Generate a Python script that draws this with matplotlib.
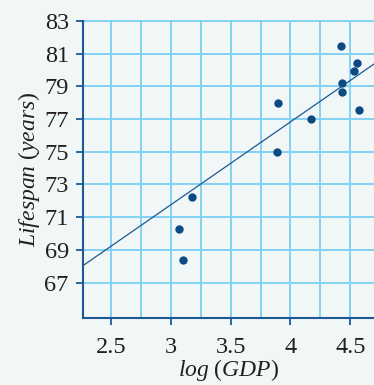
import numpy as np
import matplotlib
matplotlib.use("Agg")
from matplotlib import pyplot as plt

# log10 of GDP per capita vs. life expectancy
log_gdp = [4.42, 4.556, 4.533, 4.432, 4.43, 4.57, 3.892, 4.168, 3.89, 3.177, 3.067, 3.098]
lifespan = [81.5, 80.45, 79.92, 79.21, 78.68, 77.56, 78.0, 77.0, 75.0, 72.22, 70.28, 68.4]

# line of best fit
fit_slope = 5.07
fit_intercept = 56.55

x_ticks = [2.5, 3, 3.5, 4, 4.5]
x_tick_labels = ["2.5", "3", "3.5", "4", "4.5"]
y_ticks = [67, 69, 71, 73, 75, 77, 79, 81, 83]

bg = "#f1f6f7"
grid_col = "#84d2f3"
axis_col = "#1b5a94"
dot_col = "#0b4a82"

plt.rcParams["font.family"] = ["Liberation Serif", "DejaVu Serif"]
plt.rcParams["mathtext.fontset"] = "custom"
plt.rcParams["mathtext.rm"] = "Liberation Serif"
plt.rcParams["mathtext.it"] = "Liberation Serif:italic"

fig = plt.figure(figsize=(3.74, 3.85), dpi=100, facecolor=bg)
ax = fig.add_axes([0.2211, 0.1748, 0.7789, 0.7706], facecolor=bg)

xmin, xmax = 2.263, 4.698
ax.set_xlim(xmin, xmax)
ax.set_ylim(64.85, 83)

# grid every quarter unit across, every 2 years up
for gx in np.arange(2.5, 4.75, 0.25):
    ax.axvline(gx, color=grid_col, lw=1.4, zorder=1)
for gy in y_ticks:
    ax.axhline(gy, color=grid_col, lw=1.4, zorder=1, clip_on=False)

xs = np.array([xmin, xmax])
ax.plot(xs, fit_intercept + fit_slope * xs, color=axis_col, lw=0.9, zorder=2)
ax.scatter(log_gdp, lifespan, s=36, color=dot_col, zorder=3, linewidths=0)

for side in ["top", "right"]:
    ax.spines[side].set_visible(False)
for side in ["left", "bottom"]:
    ax.spines[side].set_color(axis_col)
    ax.spines[side].set_linewidth(1.5)

ax.set_xticks(x_ticks)
ax.set_xticklabels(x_tick_labels)
ax.set_yticks(y_ticks)
ax.tick_params(axis="both", colors=axis_col, length=5, width=1.3, labelsize=17.5,
               labelcolor="#231f20")
ax.tick_params(axis="x", pad=9)
ax.tick_params(axis="y", pad=5)

ax.set_xlabel(r"$log\ (GDP)$", fontsize=17, color="#231f20", labelpad=-1)
ax.set_ylabel(r"$Lifespan\ (years)$", fontsize=17, color="#231f20", labelpad=2)

fig.savefig("out.png", dpi=100, facecolor=bg)
